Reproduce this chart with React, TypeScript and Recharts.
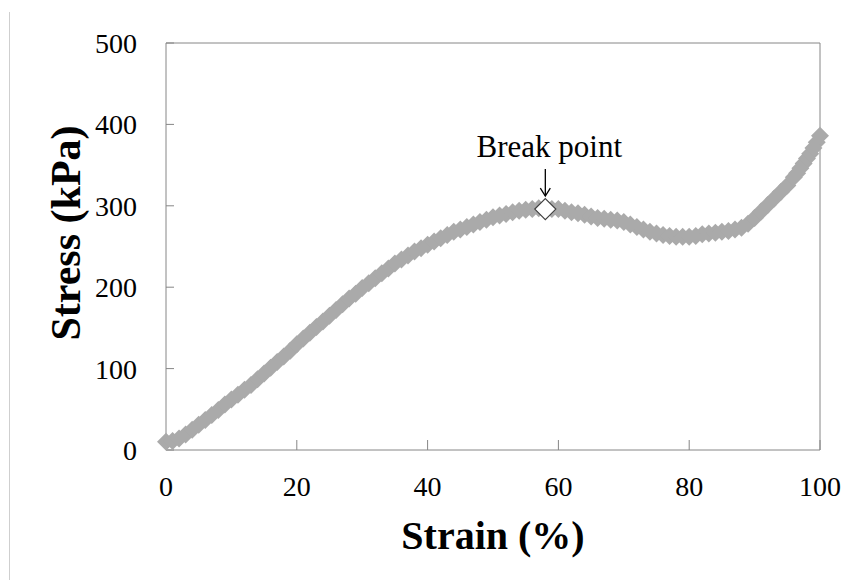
import React from "react";
import { ScatterChart, Scatter, XAxis, YAxis, ReferenceLine } from "recharts";

const strain = [
  0, 1, 2, 3, 4, 5, 6, 7, 8, 9, 10, 11, 12, 13, 14, 15, 16, 17, 18, 19, 20,
  21, 22, 23, 24, 25, 26, 27, 28, 29, 30, 31, 32, 33, 34, 35, 36, 37, 38, 39, 40,
  41, 42, 43, 44, 45, 46, 47, 48, 49, 50, 51, 52, 53, 54, 55, 56, 57, 58, 59, 60,
  61, 62, 63, 64, 65, 66, 67, 68, 69, 70, 71, 72, 73, 74, 75, 76, 77, 78, 79, 80,
  81, 82, 83, 84, 85, 86, 87, 88, 89, 90, 91, 92, 93, 94, 95, 96, 96.5, 97, 97.5, 98,
  98.5, 99, 99.5, 100,
];
const stress = [
  10, 11, 14, 19, 25, 31, 37, 43, 49, 56, 62, 68, 74, 80, 87, 94, 101, 108, 115, 122, 130,
  137, 144, 151, 158, 165, 172, 179, 186, 192, 199, 205, 211, 217, 223, 229, 234, 239, 244, 248, 252,
  256, 260, 264, 268, 271, 274, 277, 280, 283, 286, 288, 290, 292, 294, 295, 296, 297, 296, 296, 296,
  294, 292, 291, 289, 287, 285, 284, 283, 282, 280, 277, 274, 271, 268, 266, 264, 263, 262, 262, 262,
  263, 265, 266, 267, 268, 269, 271, 273, 278, 285, 293, 301, 309, 317, 325, 335, 340, 346, 352, 358,
  364, 371, 378, 386,
];
const breakStrain = [58];
const breakStress = [296];
const breakLabel = "Break point";
const xTicks = [0, 20, 40, 60, 80, 100];
const yTicks = [0, 100, 200, 300, 400, 500];
const xTitle = "Strain (%)";
const yTitle = "Stress (kPa)";

const curveData = strain.map((x, i) => ({ x, y: stress[i] }));
const breakData = breakStrain.map((x, i) => ({ x, y: breakStress[i] }));

const FONT = '"Liberation Serif", "Times New Roman", serif';
const AXIS = "#868686";

const GrayDiamond = (props: any) => {
  const { cx, cy } = props;
  const r = 9;
  return (
    <polygon
      points={`${cx},${cy - r} ${cx + r},${cy} ${cx},${cy + r} ${cx - r},${cy}`}
      fill="#aaaaaa"
    />
  );
};

const BreakMarker = (props: any) => {
  const { cx, cy } = props;
  const r = 10.5;
  return (
    <g>
      <line x1={cx} y1={cy - 40} x2={cx} y2={cy - 13} stroke="#000" strokeWidth={1.3} />
      <polyline
        points={`${cx - 5},${cy - 21} ${cx},${cy - 13} ${cx + 5},${cy - 21}`}
        fill="none"
        stroke="#000"
        strokeWidth={1.3}
      />
      <text x={cx + 4} y={cy - 52} textAnchor="middle" fontFamily={FONT} fontSize={31} fill="#000">
        {breakLabel}
      </text>
      <polygon
        points={`${cx},${cy - r} ${cx + r},${cy} ${cx},${cy + r} ${cx - r},${cy}`}
        fill="#fff"
        stroke="#404040"
        strokeWidth={1.2}
      />
    </g>
  );
};

const XTitle = (props: any) => {
  const vb = props.viewBox;
  return (
    <text
      x={vb.x + vb.width / 2}
      y={vb.y + 99}
      textAnchor="middle"
      fontFamily={FONT}
      fontWeight="bold"
      fontSize={40}
      fill="#000"
    >
      {xTitle}
    </text>
  );
};

const YTitle = (props: any) => {
  const vb = props.viewBox;
  const cx = vb.x - 20;
  const cy = vb.y + 190;
  return (
    <text
      x={cx}
      y={cy}
      transform={`rotate(-90, ${cx}, ${cy})`}
      textAnchor="middle"
      dominantBaseline="central"
      fontFamily={FONT}
      fontWeight="bold"
      fontSize={42}
      fill="#000"
    >
      {yTitle}
    </text>
  );
};

export default function App() {
  return (
    <div style={{ position: "absolute", left: 0, top: 0, width: 856, height: 580, background: "#fff" }}>
      <div style={{ position: "absolute", left: 9, top: 12, width: 1, height: 568, background: "#cfcfcf" }} />
      <ScatterChart width={856} height={580} margin={{ top: 43, right: 36, bottom: 70, left: 86 }}>
        <XAxis
          type="number"
          dataKey="x"
          domain={[0, 100]}
          ticks={xTicks}
          interval={0}
          height={60}
          tickSize={-10}
          tickMargin={36}
          stroke={AXIS}
          tickLine={{ stroke: AXIS }}
          axisLine={{ stroke: AXIS }}
          tick={{ fill: "#000", fontSize: 28, fontFamily: FONT }}
          label={<XTitle />}
        />
        <YAxis
          type="number"
          dataKey="y"
          domain={[0, 500]}
          ticks={yTicks}
          interval={0}
          width={80}
          tickSize={-8}
          tickMargin={37}
          stroke={AXIS}
          tickLine={{ stroke: AXIS }}
          axisLine={{ stroke: AXIS }}
          tick={{ fill: "#000", fontSize: 28, fontFamily: FONT }}
          label={<YTitle />}
        />
        <ReferenceLine y={500} stroke={AXIS} />
        <ReferenceLine x={100} stroke={AXIS} />
        <Scatter data={curveData} shape={<GrayDiamond />} isAnimationActive={false} />
        <Scatter data={breakData} shape={<BreakMarker />} isAnimationActive={false} />
      </ScatterChart>
    </div>
  );
}
